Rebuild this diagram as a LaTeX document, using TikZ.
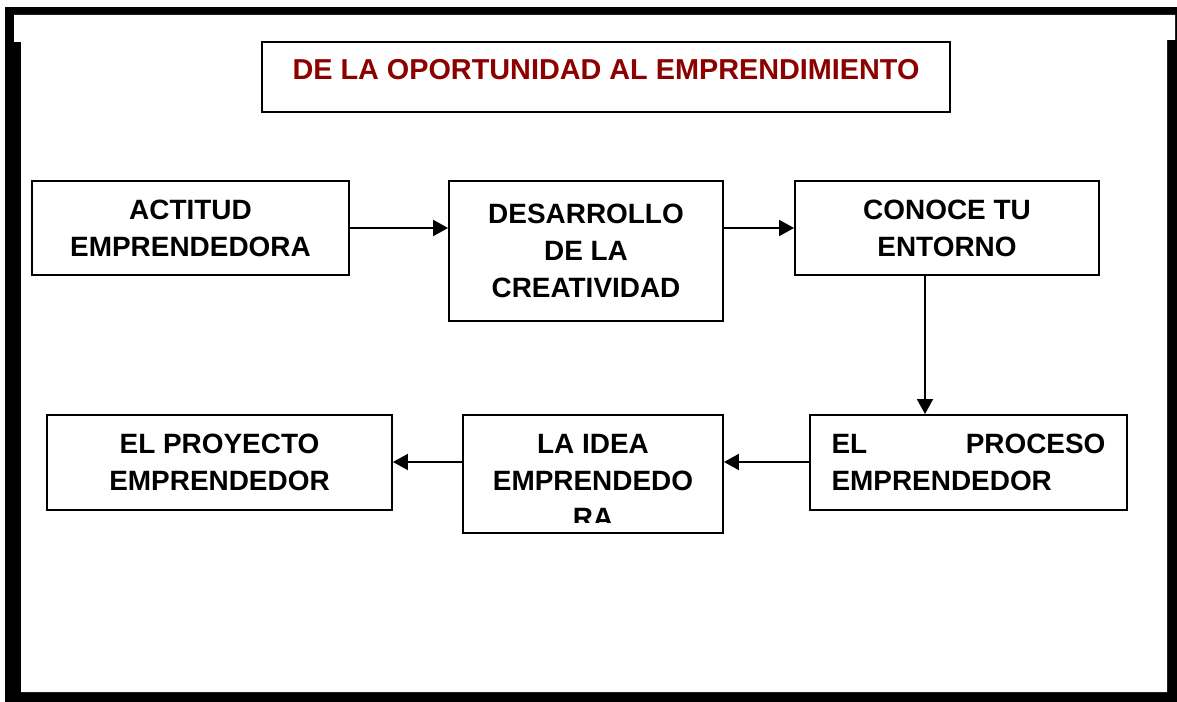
\documentclass[tikz,border=0pt]{standalone}
\usepackage{fontspec}
\setmainfont{Liberation Sans}
\usetikzlibrary{arrows.meta}
\definecolor{titlered}{RGB}{140,0,0}

\begin{document}
\begin{tikzpicture}
  [x=0.02cm,y=-0.02cm,
   box/.style={draw,line width=1.1pt,inner sep=0pt},
   txt/.style={font=\fontsize{15.9}{21}\selectfont\bfseries,align=center},
   arr/.style={line width=1.1pt,-{Triangle[length=3mm,width=3.2mm]}}]
  \useasboundingbox (0,0) rectangle (1177,702);
  % marco
  \fill (5,7) rectangle (1177,702);
  \fill[white] (14,15) -- (1175,15) -- (1175,40) -- (1167,40) -- (1167,692)
    -- (21,692) -- (21,42) -- (14,42) -- cycle;
  % titulo
  \node[box,minimum width=13.76cm,minimum height=1.4cm] (titulo) at (606,77) {};
  \node[txt,text=titlered,font=\fontsize{16.4}{21}\selectfont\bfseries] (titulotxt) at (606,70) {DE LA OPORTUNIDAD AL EMPRENDIMIENTO};
  % fila de arriba
  \node[box,txt,minimum width=6.34cm,minimum height=1.88cm] (actitud) at (190.5,228) {ACTITUD\\EMPRENDEDORA};
  \node[box,txt,minimum width=5.48cm,minimum height=2.8cm] (desarrollo) at (586,251) {DESARROLLO\\DE LA\\CREATIVIDAD};
  \node[box,txt,minimum width=6.08cm,minimum height=1.88cm] (conoce) at (947,228) {CONOCE TU\\ENTORNO};
  % fila de abajo
  \node[box,txt,align=left,text width=5.48cm,minimum width=6.34cm,minimum height=1.9cm] (proceso) at (968.5,462.5) {EL \hfill PROCESO\\EMPRENDEDOR};
  \node[box,minimum width=5.2cm,minimum height=2.36cm] (idea) at (593,474) {};
  \begin{scope}
    \clip (463,415) rectangle (723,523);
    \node[txt] (ideatxt) at (593,481) {LA IDEA\\EMPRENDEDO\\RA};
  \end{scope}
  \node[box,txt,minimum width=6.9cm,minimum height=1.9cm] (proyecto) at (219.5,462.5) {EL PROYECTO\\EMPRENDEDOR};
  % flechas
  \draw[arr] (actitud.east) -- (actitud.east -| desarrollo.west);
  \draw[arr] (desarrollo.east |- conoce) -- (conoce.west);
  \draw[arr] ([xshift=-0.44cm]conoce.south) -- ([xshift=-0.44cm]conoce.south |- proceso.north);
  \draw[arr] ([yshift=0.01cm]proceso.west) -- ([yshift=0.01cm]proceso.west -| idea.east);
  \draw[arr] ([yshift=0.01cm]idea.west |- proyecto) -- ([yshift=0.01cm]proyecto.east);
\end{tikzpicture}
\end{document}
